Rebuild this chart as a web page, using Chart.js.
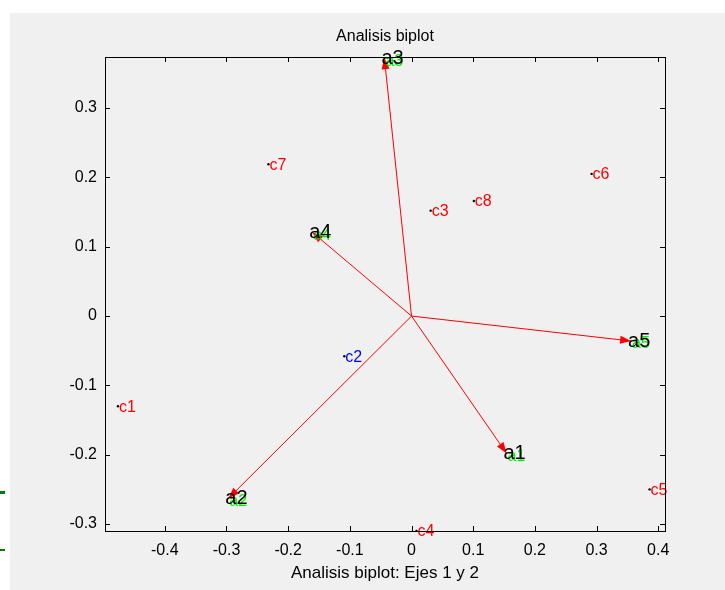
<!DOCTYPE html>
<html>
<head>
<meta charset="utf-8">
<script src="https://cdn.jsdelivr.net/npm/chart.js@4/dist/chart.umd.min.js"></script>
<style>
  html, body { margin: 0; padding: 0; background: #fff; }
  #wrap { width: 725px; height: 590px; }
</style>
</head>
<body>
<div id="wrap"><canvas id="chart" width="725" height="590"></canvas></div>
<script>
// biplot data
const varNames = ["a1", "a2", "a3", "a4", "a5"];
const varX = [0.154, -0.297, -0.044, -0.161, 0.356];
const varY = [-0.198, -0.263, 0.372, 0.121, -0.036];

const obsNames = ["c1", "c2", "c3", "c4", "c5", "c6", "c7", "c8"];
const obsX = [-0.476, -0.109, 0.031, 0.008, 0.386, 0.292, -0.232, 0.101];
const obsY = [-0.130, -0.058, 0.152, -0.310, -0.250, 0.205, 0.219, 0.166];
const obsColors = ["red", "blue", "red", "red", "red", "red", "red", "red"];

const xTicks = [-0.4, -0.3, -0.2, -0.1, 0, 0.1, 0.2, 0.3, 0.4];
const yTicks = [-0.3, -0.2, -0.1, 0, 0.1, 0.2, 0.3];

const title = "Analisis biplot";
const xLabel = "Analisis biplot: Ejes 1 y 2";

const fmt = v => String(Number(v.toFixed(1)));

const arrowSets = varNames.map((n, i) => ({
  label: n,
  data: [{ x: 0, y: 0 }, { x: varX[i], y: varY[i] }],
  showLine: true,
  borderColor: "#ff0000",
  borderWidth: 1,
  pointRadius: 0
}));

const obsSet = {
  label: "obs",
  data: obsX.map((x, i) => ({ x: x, y: obsY[i] })),
  pointRadius: 1.2,
  pointBackgroundColor: "#000",
  pointBorderWidth: 0
};

const biplot = {
  id: "biplot",
  beforeDraw(chart) {
    const ctx = chart.ctx;
    ctx.save();
    ctx.fillStyle = "#f0f0f0";
    ctx.fillRect(10, 13, 715, 577);
    ctx.fillStyle = "#008000";
    ctx.fillRect(0, 491, 5, 3);
    ctx.fillRect(0, 549, 5, 2);
    ctx.restore();
  },
  afterDatasetsDraw(chart) {
    const ctx = chart.ctx;
    const xs = chart.scales.x, ys = chart.scales.y;
    const a = chart.chartArea;
    ctx.save();

    // arrow heads
    const ox = xs.getPixelForValue(0), oy = ys.getPixelForValue(0);
    ctx.fillStyle = "#ff0000";
    varNames.forEach((n, i) => {
      const tx = xs.getPixelForValue(varX[i]), ty = ys.getPixelForValue(varY[i]);
      const ang = Math.atan2(ty - oy, tx - ox);
      const len = 11, hw = 4;
      const bx = tx - len * Math.cos(ang), by = ty - len * Math.sin(ang);
      ctx.beginPath();
      ctx.moveTo(tx, ty);
      ctx.lineTo(bx + hw * Math.sin(ang), by - hw * Math.cos(ang));
      ctx.lineTo(bx - hw * Math.sin(ang), by + hw * Math.cos(ang));
      ctx.closePath();
      ctx.fill();
    });

    // variable labels (green copy under black)
    ctx.textBaseline = "middle";
    ctx.textAlign = "left";
    varNames.forEach((n, i) => {
      const tx = xs.getPixelForValue(varX[i]), ty = ys.getPixelForValue(varY[i]);
      ctx.font = "16px 'Liberation Sans', Arial, sans-serif";
      ctx.fillStyle = "#00ee00";
      ctx.fillText(n, tx + 1, ty + 3);
      ctx.font = "20px 'Liberation Sans', Arial, sans-serif";
      ctx.fillStyle = "#000";
      ctx.fillText(n, tx - 3, ty);
    });

    // observation labels
    ctx.font = "16px 'Liberation Sans', Arial, sans-serif";
    obsNames.forEach((n, i) => {
      const px = xs.getPixelForValue(obsX[i]), py = ys.getPixelForValue(obsY[i]);
      ctx.fillStyle = obsColors[i];
      ctx.fillText(n, px + 1, py + 1);
    });

    // box and inward ticks
    ctx.strokeStyle = "#000";
    ctx.lineWidth = 1;
    ctx.strokeRect(Math.round(a.left) + 0.5, Math.round(a.top) + 0.5,
      Math.round(a.right - a.left), Math.round(a.bottom - a.top));
    ctx.beginPath();
    xTicks.forEach(v => {
      const p = Math.round(xs.getPixelForValue(v)) + 0.5;
      ctx.moveTo(p, a.bottom); ctx.lineTo(p, a.bottom - 5);
      ctx.moveTo(p, a.top); ctx.lineTo(p, a.top + 5);
    });
    yTicks.forEach(v => {
      const p = Math.round(ys.getPixelForValue(v)) + 0.5;
      ctx.moveTo(a.left, p); ctx.lineTo(a.left + 5, p);
      ctx.moveTo(a.right, p); ctx.lineTo(a.right - 5, p);
    });
    ctx.stroke();

    // title and x label
    ctx.fillStyle = "#000";
    ctx.textAlign = "center";
    ctx.font = "16px 'Liberation Sans Narrow', 'Liberation Sans', Arial, sans-serif";
    ctx.fillText(title, (a.left + a.right) / 2, 37);
    ctx.font = "17px 'Liberation Sans', Arial, sans-serif";
    ctx.fillText(xLabel, (a.left + a.right) / 2, 573);
    ctx.restore();
  }
};

new Chart(document.getElementById("chart"), {
  type: "scatter",
  data: { datasets: [...arrowSets, obsSet] },
  plugins: [biplot],
  options: {
    responsive: false,
    animation: false,
    layout: { padding: { left: 45, right: 60, top: 57, bottom: 29 } },
    plugins: { legend: { display: false }, tooltip: { enabled: false }, title: { display: false } },
    scales: {
      x: {
        type: "linear",
        min: -0.497, max: 0.411,
        grid: { display: false },
        border: { display: false },
        afterFit: s => { s.height = 30; },
        afterBuildTicks: s => { s.ticks = xTicks.map(v => ({ value: v })); },
        ticks: {
          autoSkip: false, maxRotation: 0, padding: 2,
          color: "#000",
          font: { family: "'Liberation Sans', Arial, sans-serif", size: 16 },
          callback: v => fmt(v)
        }
      },
      y: {
        type: "linear",
        min: -0.31, max: 0.3736,
        grid: { display: false },
        border: { display: false },
        afterFit: s => { s.width = 60; },
        afterBuildTicks: s => { s.ticks = yTicks.map(v => ({ value: v })); },
        ticks: {
          autoSkip: false, padding: 0,
          color: "#000",
          font: { family: "'Liberation Sans', Arial, sans-serif", size: 16 },
          callback: v => fmt(v)
        }
      }
    }
  }
});
</script>
</body>
</html>
